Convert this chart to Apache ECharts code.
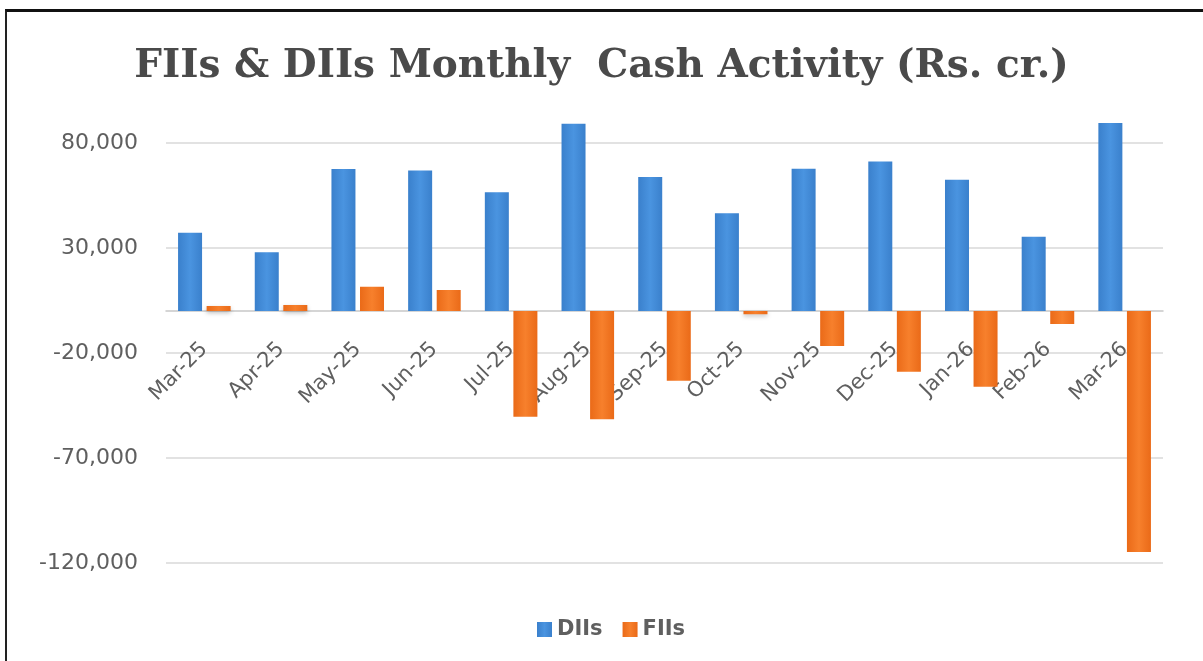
<!DOCTYPE html>
<html>
<head>
<meta charset="utf-8">
<title>FIIs & DIIs Monthly Cash Activity</title>
<script type="text/javascript" src="https://cdn.jsdelivr.net/npm/echarts@6/dist/echarts.min.js"></script>
<style>
    html, body {
        margin: 0;
        padding: 0;
        background: #fff;
        overflow: hidden;
    }
    #main {
        width: 1203px;
        height: 661px;
    }
    .frame {
        position: absolute;
        left: 5px;
        top: 9px;
        width: 1300px;
        height: 800px;
        border-top: 3px solid #111;
        border-left: 2px solid #222;
        pointer-events: none;
    }
</style>
</head>
<body>
<div id="main"></div>
<div class="frame"></div>

<script type="text/javascript">
    // data (Rs. cr.)
    var months = ['Mar-25', 'Apr-25', 'May-25', 'Jun-25', 'Jul-25', 'Aug-25', 'Sep-25',
                  'Oct-25', 'Nov-25', 'Dec-25', 'Jan-26', 'Feb-26', 'Mar-26'];
    var diis = [37300, 28000, 67600, 66900, 56600, 89200, 63800, 46600, 67700, 71200, 62500, 35400, 89500];
    var fiis = [2400, 2900, 11600, 10000, -50400, -51600, -33200, -1500, -16700, -28900, -36100, -6200, -114800];
    var yTicks = [-120000, -70000, -20000, 30000, 80000];

    var labelColor = '#5f5f5f';

    var myChart = echarts.init(document.getElementById('main'));

    var option = {
        animation: false,
        title: {
            text: 'FIIs & DIIs Monthly  Cash Activity (Rs. cr.)',
            left: 'center',
            top: 42,
            textStyle: {
                fontFamily: 'DejaVu Serif',
                fontWeight: 'bold',
                fontSize: 39,
                color: '#4a4a4a'
            }
        },
        legend: {
            left: 532,
            top: 614,
            itemWidth: 15,
            itemHeight: 15,
            itemGap: 20,
            icon: 'rect',
            textStyle: {
                fontFamily: 'DejaVu Sans',
                fontWeight: 'bold',
                fontSize: 21,
                color: labelColor
            },
            data: ['DIIs', 'FIIs']
        },
        grid: {
            left: 166,
            right: 40,
            top: 101,
            bottom: 98,
            outerBoundsMode: 'none'
        },
        xAxis: {
            type: 'category',
            data: months,
            offset: 0,
            axisTick: { show: false },
            axisLine: {
                onZero: false,
                lineStyle: { color: '#c8c8c8', width: 1.5 }
            },
            axisLabel: {
                rotate: 45,
                margin: 35,
                interval: 0,
                fontFamily: 'DejaVu Sans',
                fontSize: 21,
                color: labelColor
            }
        },
        yAxis: {
            type: 'value',
            min: -120000,
            max: 100000,
            axisLine: { show: false },
            axisTick: { show: false, customValues: yTicks },
            axisLabel: {
                customValues: yTicks,
                margin: 28,
                fontFamily: 'DejaVu Sans',
                fontSize: 22,
                color: labelColor,
                formatter: function (v) {
                    return echarts.format.addCommas(v);
                }
            },
            splitLine: {
                lineStyle: { color: '#d9d9d9', width: 1.5 }
            }
        },
        series: [{
            name: 'DIIs',
            type: 'bar',
            data: diis,
            barWidth: 24,
            barGap: '19%',
            itemStyle: {
                color: new echarts.graphic.LinearGradient(0, 0, 1, 0, [
                    { offset: 0, color: '#3a80cc' },
                    { offset: 0.5, color: '#4a94e0' },
                    { offset: 1, color: '#3a80cc' }
                ]),
                shadowBlur: 4,
                shadowOffsetY: 2,
                shadowColor: 'rgba(0,0,0,0.25)'
            }
        }, {
            name: 'FIIs',
            type: 'bar',
            data: fiis,
            barWidth: 24,
            itemStyle: {
                color: new echarts.graphic.LinearGradient(0, 0, 1, 0, [
                    { offset: 0, color: '#ea6a18' },
                    { offset: 0.5, color: '#f7802c' },
                    { offset: 1, color: '#ea6a18' }
                ]),
                shadowBlur: 4,
                shadowOffsetY: 2,
                shadowColor: 'rgba(0,0,0,0.25)'
            }
        }]
    };

    myChart.setOption(option);

    // move the category axis (line + labels) up to the zero line, as in the original
    var zeroY = myChart.convertToPixel({ yAxisIndex: 0 }, 0);
    var bottomY = myChart.convertToPixel({ yAxisIndex: 0 }, -120000);
    myChart.setOption({ xAxis: { offset: zeroY - bottomY } });
</script>
</body>
</html>
